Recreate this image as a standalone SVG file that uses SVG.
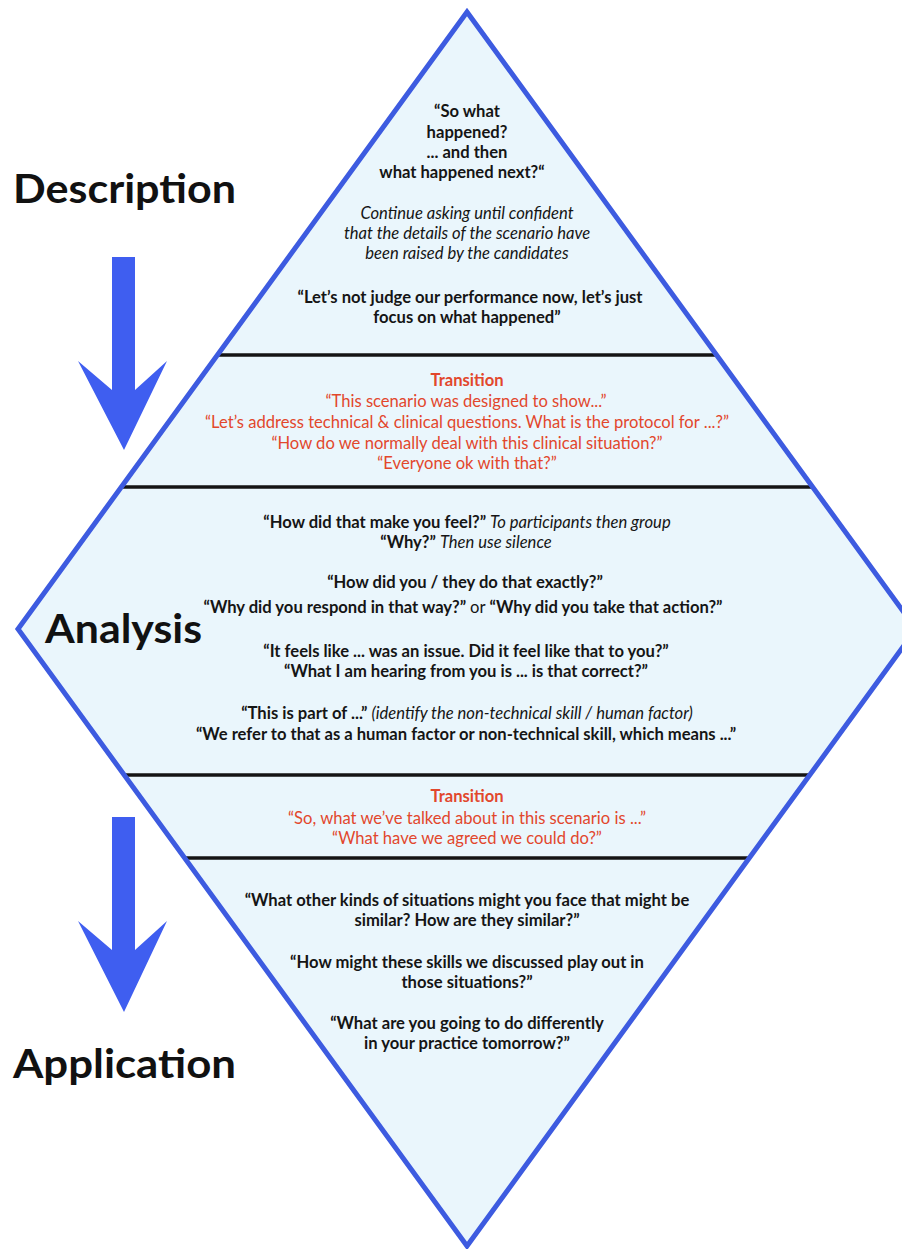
<svg xmlns="http://www.w3.org/2000/svg" width="902" height="1249" viewBox="0 0 902 1249">
<style>
.t{font-family:Lato,"Open Sans","Liberation Sans",sans-serif;font-size:16.6px;text-anchor:middle;fill:#151515}
.b{font-weight:bold}
.i{font-style:italic;font-weight:normal}
.n{font-weight:normal;font-style:normal}
.r{fill:#e2472c}
.big{font-family:Lato,"Open Sans","Liberation Sans",sans-serif;font-size:41px;font-weight:bold;fill:#111}
.sep{stroke:#141414;stroke-width:3.5}
.arrow{fill:#3f5ef0}
</style>
<rect width="902" height="1249" fill="#ffffff"/>
<g id="diamond">
<polygon points="467,12 916,629 467,1246 18,629" fill="#eaf6fc"/>
</g>
<g id="separators">
<line class="sep" x1="217" y1="355" x2="717" y2="355"/>
<line class="sep" x1="121" y1="487" x2="813" y2="487"/>
<line class="sep" x1="124" y1="775" x2="810" y2="775"/>
<line class="sep" x1="185" y1="858" x2="749" y2="858"/>
</g>
<g id="diamond-outline">
<polygon points="467,12 916,629 467,1246 18,629" fill="none" stroke="#3d5be0" stroke-width="5" stroke-linejoin="miter"/>
</g>
<g id="description-section">
<text class="t b" x="467" y="117">“So what</text>
<text class="t b" x="467" y="138">happened?</text>
<text class="t b" x="467" y="158">... and then</text>
<text class="t b" x="462" y="178">what happened next?“</text>
<text class="t i" x="467" y="219">Continue asking until confident</text>
<text class="t i" x="467" y="239">that the details of the scenario have</text>
<text class="t i" x="467" y="259">been raised by the candidates</text>
<text class="t b" x="470" y="303">“Let’s not judge our performance now, let’s just</text>
<text class="t b" x="467" y="323">focus on what happened”</text>
</g>
<g id="transition-1">
<text class="t b r" x="467" y="386">Transition</text>
<text class="t r" x="466" y="407">“This scenario was designed to show...”</text>
<text class="t r" x="467" y="428">“Let’s address technical &amp; clinical questions. What is the protocol for ...?”</text>
<text class="t r" x="467" y="449">“How do we normally deal with this clinical situation?”</text>
<text class="t r" x="467" y="469">“Everyone ok with that?”</text>
</g>
<g id="analysis-section">
<text class="t b" x="467" y="528">“How did that make you feel?” <tspan class="i">To participants then group</tspan></text>
<text class="t b" x="466" y="548">“Why?” <tspan class="i">Then use silence</tspan></text>
<text class="t b" x="465" y="588">“How did you / they do that exactly?”</text>
<text class="t b" x="463" y="613">“Why did you respond in that way?” <tspan class="n">or</tspan> “Why did you take that action?”</text>
<text class="t b" x="466" y="657">“It feels like ... was an issue. Did it feel like that to you?”</text>
<text class="t b" x="466" y="677">“What I am hearing from you is ... is that correct?”</text>
<text class="t b" x="467" y="719">“This is part of ...” <tspan class="i">(identify the non-technical skill / human factor)</tspan></text>
<text class="t b" x="466" y="740">“We refer to that as a human factor or non-technical skill, which means ...”</text>
</g>
<g id="transition-2">
<text class="t b r" x="467" y="802">Transition</text>
<text class="t r" x="467" y="824">“So, what we’ve talked about in this scenario is ...”</text>
<text class="t r" x="467" y="844">“What have we agreed we could do?”</text>
</g>
<g id="application-section">
<text class="t b" x="467" y="906">“What other kinds of situations might you face that might be</text>
<text class="t b" x="467" y="926">similar? How are they similar?”</text>
<text class="t b" x="467" y="968">“How might these skills we discussed play out in</text>
<text class="t b" x="467" y="988">those situations?”</text>
<text class="t b" x="467" y="1029">“What are you going to do differently</text>
<text class="t b" x="467" y="1049">in your practice tomorrow?”</text>
</g>
<g id="stage-labels">
<text class="big" x="13" y="203" textLength="223" lengthAdjust="spacingAndGlyphs">Description</text>
<text class="big" x="45" y="643" textLength="157" lengthAdjust="spacingAndGlyphs">Analysis</text>
<text class="big" x="13" y="1078" textLength="223" lengthAdjust="spacingAndGlyphs">Application</text>
</g>
<g id="connectors">
<polygon class="arrow" points="112,257 135,257 135,390 167,361 124,450 78,361 112,390"/>
<polygon class="arrow" points="112,817 135,817 135,950 167,921 124,1012 78,921 112,950"/>
</g>
</svg>
